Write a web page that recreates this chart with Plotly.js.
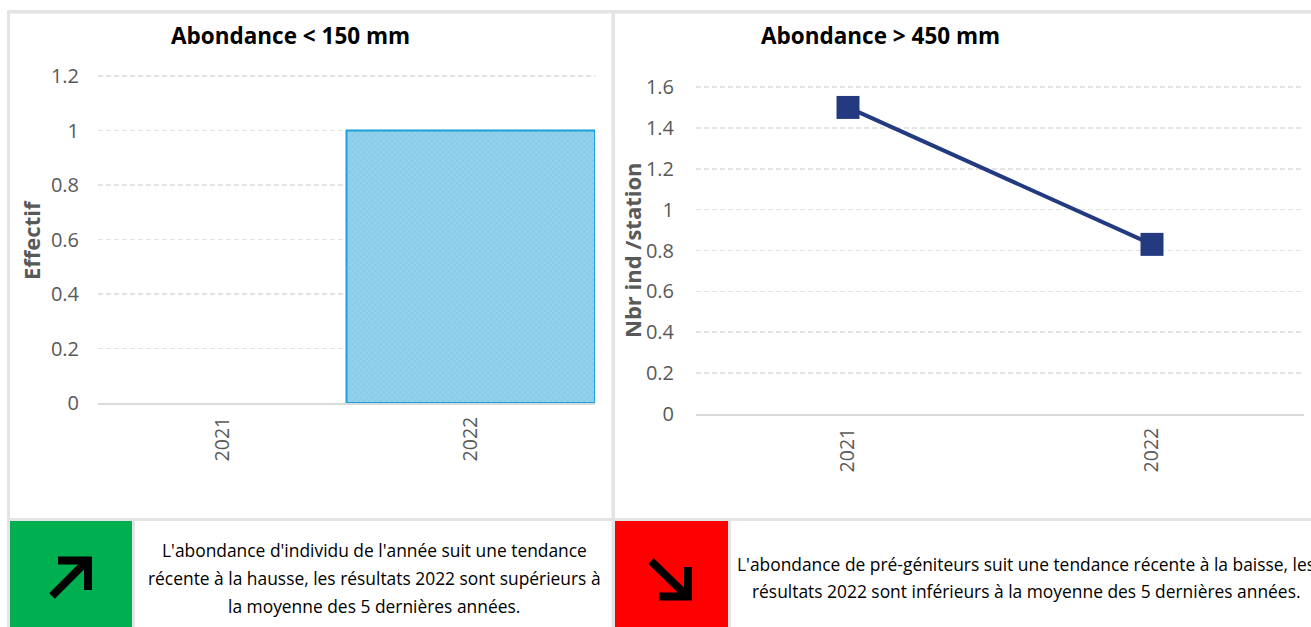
<!DOCTYPE html>
<html>
<head>
<meta charset="utf-8">
<script src="https://cdn.plot.ly/plotly-3.0.1.min.js"></script>
<style>html,body{margin:0;padding:0;background:#fff;overflow:hidden}</style>
</head>
<body>
<div id="chart" style="width:1311px;height:627px"></div>
<script>
var years = ['2021', '2022'];
var effectif = [0, 1];
var nbrIndStation = [1.5, 0.83];
var leftTicks = [0, 0.2, 0.4, 0.6, 0.8, 1, 1.2];
var rightTicks = [0, 0.2, 0.4, 0.6, 0.8, 1, 1.2, 1.4, 1.6];
var titleLeft = 'Abondance &lt; 150 mm';
var titleRight = 'Abondance &gt; 450 mm';
var yTitleLeft = 'Effectif';
var yTitleRight = 'Nbr ind /station';
var noteLeft = ["L'abondance d'individu de l'année suit une tendance",
  "récente à la hausse, les résultats 2022 sont supérieurs à",
  "la moyenne des 5 dernières années."];
var noteRight = ["L'abondance de pré-géniteurs suit une tendance récente à la baisse, les",
  "résultats 2022 sont inférieurs à la moyenne des 5 dernières années."];

var W = 1311, H = 627;
var FONT = '"Open Sans", sans-serif';
var GREY = '#595959', FRAME = '#E4E4E4', GRID = '#E4E4E4';
function px(x) { return x / W; }
function py(y) { return 1 - y / H; }

function rect(x0, y0, x1, y1, c) {
  return {type: 'rect', xref: 'paper', yref: 'paper', layer: 'below',
    x0: px(x0), x1: px(x1), y0: py(y1), y1: py(y0), fillcolor: c, line: {width: 0}};
}
function poly(pts, w) {
  var p = pts.map(function (q, i) { return (i ? 'L' : 'M') + px(q[0]) + ',' + py(q[1]); }).join(' ');
  return {type: 'path', xref: 'paper', yref: 'paper', layer: 'above', path: p,
    line: {color: '#000', width: w}};
}
function label(text, x, y, size, color, bold, angle) {
  return {xref: 'paper', yref: 'paper', x: px(x), y: py(y), xanchor: 'center', yanchor: 'middle',
    text: bold ? '<b>' + text + '</b>' : text, showarrow: false, textangle: angle || 0,
    font: {family: FONT, size: size, color: color}};
}

var shapes = [
  rect(7, 10, 1311, 13.5, FRAME),
  rect(7, 10, 10, 627, FRAME),
  rect(611.5, 10, 615, 627, FRAME),
  rect(7, 518, 1311, 521, FRAME),
  rect(10, 521, 132, 627, '#00B050'),
  rect(132, 521, 135, 627, FRAME),
  rect(615, 521, 728, 627, '#FF0000'),
  rect(728, 521, 731, 627, FRAME),
  poly([[52, 596], [88, 560]], 8),
  poly([[58, 560.5], [88, 560.5], [88, 590]], 8),
  poly([[651, 561], [688, 597]], 8),
  poly([[659, 596.5], [688, 596.5], [688, 567]], 8)
];

var annotations = [
  label(titleLeft, 290, 35, 22.5, '#000', true),
  label(titleRight, 881, 35, 22.5, '#000', true),
  label(yTitleLeft, 31, 240, 22, GREY, true, -90),
  label(yTitleRight, 632, 250, 22, GREY, true, -90)
];
noteLeft.forEach(function (t, i) { annotations.push(label(t, 374, 550 + i * 28, 17.4, '#000')); });
noteRight.forEach(function (t, i) { annotations.push(label(t, 1026, 564 + i * 27, 17.4, '#000')); });

function xAxis(x0, x1, anchor, standoff) {
  return {domain: [px(x0), px(x1)], anchor: anchor, type: 'category', categoryorder: 'array',
    categoryarray: years, range: [-0.5, 1.5], tickangle: -90, ticks: '', ticklabelstandoff: standoff,
    tickfont: {family: FONT, size: 19.5, color: GREY}, showgrid: false,
    showline: true, linecolor: '#DADADA', linewidth: 2, zeroline: false, fixedrange: true};
}
function yAxis(y0, y1, anchor, maxv, ticks, standoff) {
  return {domain: [py(y1), py(y0)], anchor: anchor, range: [0, maxv], tickmode: 'array',
    tickvals: ticks, ticktext: ticks.map(String), ticks: '', ticklabelstandoff: standoff,
    tickfont: {family: FONT, size: 20, color: GREY}, showgrid: true, gridcolor: GRID,
    griddash: '5px,3px', gridwidth: 1.6, zeroline: false, showline: false, fixedrange: true};
}

var traces = [
  {type: 'bar', x: years, y: effectif, xaxis: 'x', yaxis: 'y', width: 1,
   marker: {color: 'rgba(140,205,235,0.95)', opacity: 1,
     line: {color: '#1F9FD8', width: [0, 2]},
     pattern: {shape: 'x', size: 4, solidity: 0.35, bgcolor: 'rgba(143,207,236,0.96)', fgcolor: '#84C7E8', fillmode: 'replace'}},
   hoverinfo: 'skip'},
  {type: 'scatter', mode: 'lines+markers', x: years, y: nbrIndStation, xaxis: 'x2', yaxis: 'y2',
   line: {color: '#243A80', width: 4},
   marker: {symbol: 'square', size: 23, color: '#243A80'}, hoverinfo: 'skip'}
];

var layout = {
  width: W, height: H, margin: {l: 0, r: 0, t: 0, b: 0}, showlegend: false,
  paper_bgcolor: '#fff', plot_bgcolor: 'rgba(0,0,0,0)', bargap: 0,
  xaxis: xAxis(98, 595, 'y', 4),
  yaxis: yAxis(73, 403, 'x', 1.2 * 330 / 327, leftTicks, 18),
  xaxis2: xAxis(696, 1304, 'y2', 4),
  yaxis2: yAxis(84, 414, 'x2', 1.6 * 330 / 327, rightTicks, 21),
  shapes: shapes, annotations: annotations
};
Plotly.newPlot('chart', traces, layout, {displayModeBar: false, staticPlot: true});
</script>
</body>
</html>
